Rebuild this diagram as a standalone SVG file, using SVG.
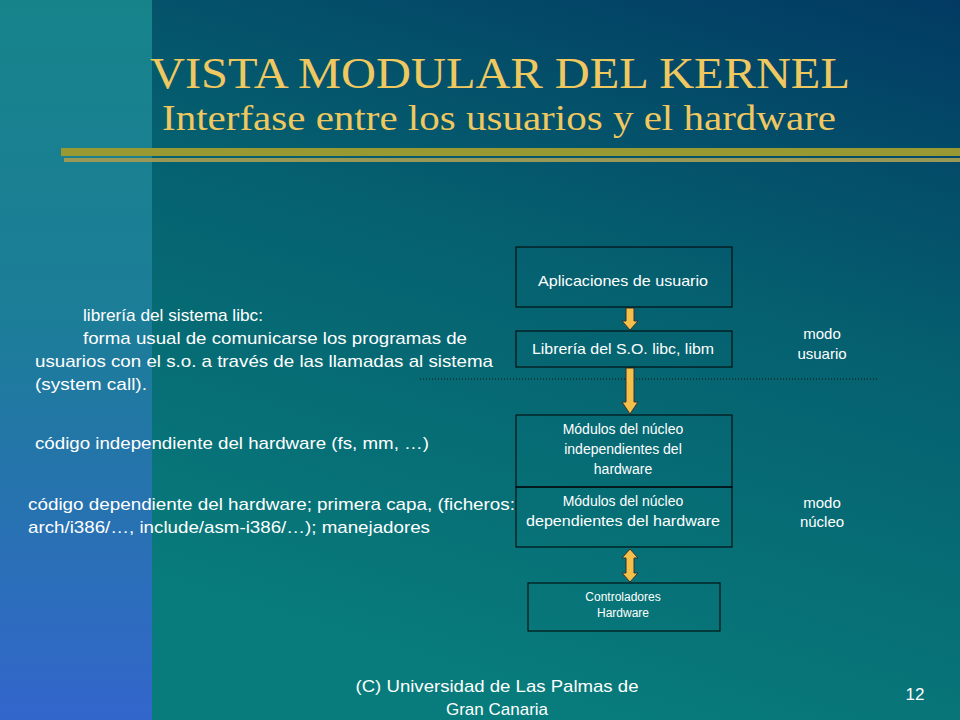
<svg xmlns="http://www.w3.org/2000/svg" width="960" height="720" viewBox="0 0 960 720">
<defs>
<linearGradient id="lg" x1="0" y1="0" x2="0" y2="1"><stop offset="0" stop-color="#16838a"/><stop offset="0.45" stop-color="#1c7d98"/><stop offset="1" stop-color="#3366cc"/></linearGradient>
<linearGradient id="rg" x1="1" y1="0" x2="0.6" y2="1"><stop offset="0" stop-color="#023a63"/><stop offset="0.45" stop-color="#05606f"/><stop offset="1" stop-color="#087c7c"/></linearGradient>
<style>
.box{fill:none;stroke:#000;stroke-width:1}
.t{font-family:"Liberation Sans",Arial,sans-serif;fill:#fff;text-anchor:middle}
.l{font-family:"Liberation Sans",Arial,sans-serif;fill:#fff;font-size:17px}
.arr{fill:#f5c04a;stroke:#333;stroke-width:1}
</style>
</defs>
<rect width="960" height="720" fill="url(#rg)"/>
<rect width="152" height="720" fill="url(#lg)"/>
<rect x="61" y="148" width="899" height="8" fill="#999933"/>
<rect x="64" y="158" width="896" height="4" fill="#999955"/>
<text x="150" y="88" font-family="Liberation Serif,serif" font-size="44" fill="#f0c860" textLength="700" lengthAdjust="spacingAndGlyphs">VISTA MODULAR DEL KERNEL</text>
<text x="162" y="130" font-family="Liberation Serif,serif" font-size="36" fill="#f0c860" textLength="674" lengthAdjust="spacingAndGlyphs">Interfase entre los usuarios y el hardware</text>
<line x1="420" y1="379" x2="878" y2="379" stroke="#111" stroke-width="1" stroke-dasharray="1,2"/>
<g id="connectors">
<polygon class="arr" points="626,308 634,308 634,321 638,321 630,330 622,321 626,321"/>
<polygon class="arr" points="626,368 634,368 634,402 638,402 630,414 622,402 626,402"/>
<polygon class="arr" points="630,549 638,558 634,558 634,573 638,573 630,582 622,573 626,573 626,558 622,558"/>
</g>
<g id="apps"><rect class="box" x="516" y="247" width="216" height="60"/><text class="t" x="623" y="286" font-size="14.5" textLength="170" lengthAdjust="spacingAndGlyphs">Aplicaciones de usuario</text></g>
<g id="libc"><rect class="box" x="516" y="331" width="216" height="36"/><text class="t" x="623" y="354" font-size="14.5" textLength="182" lengthAdjust="spacingAndGlyphs">Librería del S.O. libc, libm</text></g>
<g id="indep"><rect class="box" x="516" y="415" width="216" height="72"/><text class="t" font-size="14"><tspan x="623" y="434">Módulos del núcleo</tspan><tspan x="623" y="454">independientes del</tspan><tspan x="623" y="474">hardware</tspan></text></g>
<g id="dep"><rect class="box" x="516" y="487" width="216" height="60"/><text class="t" font-size="14"><tspan x="623" y="506">Módulos del núcleo</tspan><tspan x="623" y="526" textLength="194" lengthAdjust="spacingAndGlyphs">dependientes del hardware</tspan></text></g>
<g id="ctrl"><rect class="box" x="528" y="583" width="192" height="48"/><text class="t" font-size="12"><tspan x="623" y="601">Controladores</tspan><tspan x="623" y="617">Hardware</tspan></text></g>
<text class="t" font-size="15"><tspan x="822" y="339">modo</tspan><tspan x="822" y="359">usuario</tspan></text>
<text class="t" font-size="15"><tspan x="822" y="508">modo</tspan><tspan x="822" y="527">núcleo</tspan></text>
<text class="l" lengthAdjust="spacingAndGlyphs"><tspan x="83" y="321" textLength="180" lengthAdjust="spacingAndGlyphs">librería del sistema libc:</tspan><tspan x="83" y="344" textLength="384" lengthAdjust="spacingAndGlyphs">forma usual de comunicarse los programas de</tspan><tspan x="35" y="367" textLength="458" lengthAdjust="spacingAndGlyphs">usuarios con el s.o. a través de las llamadas al sistema</tspan><tspan x="35" y="390" textLength="112" lengthAdjust="spacingAndGlyphs">(system call).</tspan></text>
<text class="l" x="35" y="449" textLength="394" lengthAdjust="spacingAndGlyphs">código independiente del hardware (fs, mm, …)</text>
<text class="l"><tspan x="28" y="510" textLength="487" lengthAdjust="spacingAndGlyphs">código dependiente del hardware; primera capa, (ficheros:</tspan><tspan x="28" y="533" textLength="402" lengthAdjust="spacingAndGlyphs">arch/i386/…, include/asm-i386/…); manejadores</tspan></text>
<text class="t" font-size="17"><tspan x="497" y="692" textLength="283" lengthAdjust="spacingAndGlyphs">(C) Universidad de Las Palmas de</tspan><tspan x="497" y="715">Gran Canaria</tspan></text>
<text class="t" x="915" y="700" font-size="17">12</text>
</svg>
